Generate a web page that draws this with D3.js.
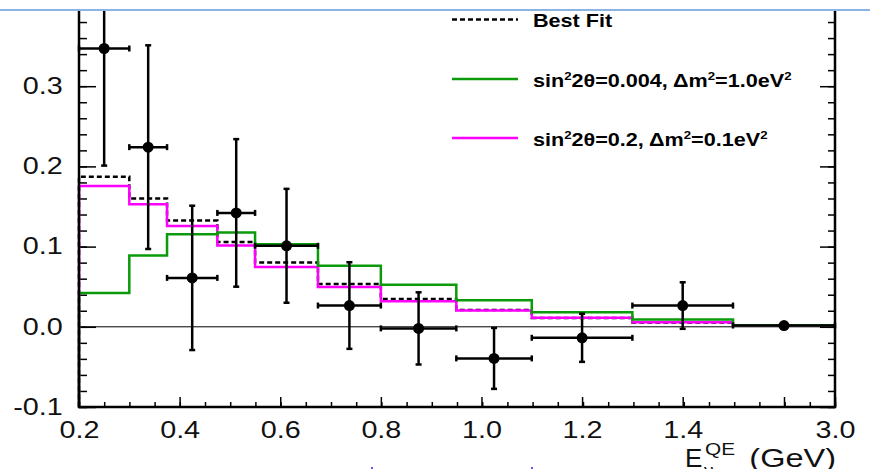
<!DOCTYPE html>
<html>
<head>
<meta charset="utf-8">
<script src="https://cdn.jsdelivr.net/npm/d3@7"></script>
<style>
  body { margin: 0; background: #fff; }
  svg { display: block; font-family: "Liberation Sans", Arial, Helvetica, sans-serif; }
  .tick line { stroke: #000; stroke-width: 1.5; }
  .tick text { fill: #111; font-size: 23px; }
</style>
</head>
<body>
<div id="chart"></div>
<script>
// bin edges in E_QE (GeV); last bin 1.5-3.0 is squeezed on the axis
var binEdges = [0.2, 0.3, 0.375, 0.475, 0.55, 0.675, 0.8, 0.95, 1.1, 1.3, 1.5, 3.0];

// data (excess events) and errors
var dataY   = [0.347, 0.224, 0.061, 0.142, 0.101, 0.0265, -0.002, -0.0394, -0.0137, 0.0265, 0.0016];
var dataErr = [0.146, 0.127, 0.090, 0.092, 0.071, 0.054, 0.045, 0.038, 0.030, 0.029, 0.003];

// predictions
var bestFit  = [0.187, 0.160, 0.1325, 0.1056, 0.0802, 0.0534, 0.0348, 0.021, 0.011, 0.0055, 0.0015];
var oscGreen = [0.042, 0.089, 0.1155, 0.1175, 0.103, 0.076, 0.0525, 0.033, 0.0182, 0.009, 0.002];
var oscPink  = [0.1755, 0.1528, 0.1258, 0.1014, 0.0745, 0.0497, 0.0318, 0.0203, 0.0112, 0.0057, 0.0015];

var xTickValues = [0.2, 0.4, 0.6, 0.8, 1.0, 1.2, 1.4, 2.25, 3.0];
var xTickLabels = ["0.2", "0.4", "0.6", "0.8", "1.0", "1.2", "1.4", "", "3.0"];
var yTickValues = [-0.1, 0.0, 0.1, 0.2, 0.3];
var yTickLabels = ["-0.1", "0.0", "0.1", "0.2", "0.3"];

var W = 870, H = 469;
var mLeft = 79, mRight = 835, mBottom = 407, mTop = 11;

var svg = d3.select("#chart").append("svg")
	.attr("width", W)
	.attr("height", H);

svg.append("rect").attr("width", W).attr("height", H).attr("fill", "#fff");

// piecewise: 0.2-1.5 linear, 1.5-3.0 compressed into the last 0.2 of axis
var x = d3.scaleLinear().domain([0.2, 1.5, 3.0]).range([mLeft, 733, mRight]);
var y = d3.scaleLinear().domain([-0.1, 0.4]).range([mBottom, 6]);

var defs = svg.append("defs");
defs.append("clipPath").attr("id", "plotclip")
	.append("rect").attr("x", 0).attr("y", mTop).attr("width", W).attr("height", H - mTop);
defs.append("clipPath").attr("id", "topclip")
	.append("rect").attr("x", 0).attr("y", 0).attr("width", W).attr("height", 6);

var plot = svg.append("g").attr("clip-path", "url(#plotclip)");

// minor x ticks (every 0.05 on the drawn axis)
var xDisp = d3.scaleLinear().domain([0.2, 1.7]).range([mLeft, mRight]);
plot.append("g")
	.attr("transform", "translate(0," + mBottom + ")")
	.call(d3.axisBottom(xDisp).tickValues(d3.range(0, 31).map(function(i) { return 0.2 + i * 0.05; }))
		.tickSizeInner(-5).tickSizeOuter(0).tickFormat(""))
	.call(function(g) { g.select(".domain").remove(); });

// major x ticks + labels
var xAxis = plot.append("g")
	.attr("transform", "translate(0," + mBottom + ")")
	.call(d3.axisBottom(x).tickValues(xTickValues)
		.tickSizeInner(-10).tickSizeOuter(0).tickPadding(15)
		.tickFormat(function(d, i) { return xTickLabels[i]; }));
xAxis.select(".domain").remove();
xAxis.selectAll("text").attr("transform", "scale(1.25,1)");

// y ticks, left and right
var yMinor = d3.range(0, 26).map(function(i) { return -0.1 + i * 0.02; });
plot.append("g").attr("transform", "translate(" + mLeft + ",0)")
	.call(d3.axisLeft(y).tickValues(yMinor).tickSizeInner(-8).tickSizeOuter(0).tickFormat(""))
	.call(function(g) { g.select(".domain").remove(); });
var yAxis = plot.append("g").attr("transform", "translate(" + mLeft + ",0)")
	.call(d3.axisLeft(y).tickValues(yTickValues.concat([0.4])).tickSizeInner(-17).tickSizeOuter(0).tickPadding(13)
		.tickFormat(function(d, i) { return yTickLabels[i] || ""; }));
yAxis.select(".domain").remove();
yAxis.selectAll("text").attr("transform", "scale(1.25,1)");

plot.append("g").attr("transform", "translate(" + mRight + ",0)")
	.call(d3.axisRight(y).tickValues(yMinor).tickSizeInner(-7).tickSizeOuter(0).tickFormat(""))
	.call(function(g) { g.select(".domain").remove(); });
plot.append("g").attr("transform", "translate(" + mRight + ",0)")
	.call(d3.axisRight(y).tickValues(yTickValues.concat([0.4])).tickSizeInner(-15).tickSizeOuter(0).tickFormat(""))
	.call(function(g) { g.select(".domain").remove(); });

// remnant of the 0.4 label above the header line
svg.append("text")
	.attr("clip-path", "url(#topclip)")
	.attr("text-anchor", "end")
	.attr("transform", "translate(" + (mLeft - 16) + "," + (y(0.4) - 1) + ") scale(1.25,1)")
	.attr("font-size", 23).attr("fill", "#111")
	.text("0.4");

// zero line
plot.append("line")
	.attr("x1", mLeft).attr("x2", mRight)
	.attr("y1", y(0)).attr("y2", y(0))
	.attr("stroke", "#000").attr("stroke-width", 1);

function stepPath(vals) {
	var p = "M" + x(binEdges[0]) + "," + y(-0.1);
	vals.forEach(function(v, i) {
		p += "V" + y(v) + "H" + x(binEdges[i + 1]);
	});
	return p;
}

var hists = [
	{ vals: bestFit, color: "#000", dash: "5,3" },
	{ vals: oscPink, color: "#ff00ff", dash: null },
	{ vals: oscGreen, color: "#0a9a0a", dash: null }
];
plot.selectAll(".hist").data(hists).enter()
	.append("path")
	.attr("class", "hist")
	.attr("d", function(d) { return stepPath(d.vals); })
	.attr("fill", "none")
	.attr("stroke", function(d) { return d.color; })
	.attr("stroke-width", 2.5)
	.attr("stroke-dasharray", function(d) { return d.dash; });

// data points with error bars
var pts = dataY.map(function(v, i) {
	return { lo: binEdges[i], hi: binEdges[i + 1], c: (binEdges[i] + binEdges[i + 1]) / 2, v: v, e: dataErr[i] };
});
var pg = plot.selectAll(".pt").data(pts).enter().append("g").attr("class", "pt")
	.attr("stroke", "#000").attr("stroke-width", 2.5);
pg.append("line")
	.attr("x1", function(d) { return x(d.lo); }).attr("x2", function(d) { return x(d.hi); })
	.attr("y1", function(d) { return y(d.v); }).attr("y2", function(d) { return y(d.v); });
pg.append("line")
	.attr("x1", function(d) { return x(d.c); }).attr("x2", function(d) { return x(d.c); })
	.attr("y1", function(d) { return y(d.v - d.e); }).attr("y2", function(d) { return y(d.v + d.e); });
["lo", "hi"].forEach(function(k) {
	pg.append("line")
		.attr("x1", function(d) { return x(d[k]); }).attr("x2", function(d) { return x(d[k]); })
		.attr("y1", function(d) { return y(d.v) - 3; }).attr("y2", function(d) { return y(d.v) + 3; });
});
[1, -1].forEach(function(s) {
	pg.append("line")
		.attr("x1", function(d) { return x(d.c) - 3; }).attr("x2", function(d) { return x(d.c) + 3; })
		.attr("y1", function(d) { return y(d.v + s * d.e); }).attr("y2", function(d) { return y(d.v + s * d.e); });
});
pg.append("circle")
	.attr("cx", function(d) { return x(d.c); }).attr("cy", function(d) { return y(d.v); })
	.attr("r", 5.5).attr("fill", "#000").attr("stroke", "none");

// frame
svg.append("path")
	.attr("d", "M" + mLeft + "," + mTop + "V" + mBottom + "H" + mRight + "V" + mTop)
	.attr("stroke", "#000").attr("stroke-width", 2.5).attr("fill", "none");

// legend
var legend = svg.append("g").attr("font-weight", "bold").attr("font-size", 18);
var legendRows = [
	{ color: "#000", dash: "5,3", yy: 19.5, parts: [["Best Fit", 0]] },
	{ color: "#0a9a0a", dash: null, yy: 79, parts: [["sin", 0], ["2", 1], ["2θ=0.004, Δm", 0], ["2", 1], ["=1.0eV", 0], ["2", 1]] },
	{ color: "#ff00ff", dash: null, yy: 138, parts: [["sin", 0], ["2", 1], ["2θ=0.2, Δm", 0], ["2", 1], ["=0.1eV", 0], ["2", 1]] }
];
legendRows.forEach(function(r) {
	legend.append("line")
		.attr("x1", 452).attr("x2", 518).attr("y1", r.yy).attr("y2", r.yy)
		.attr("stroke", r.color).attr("stroke-width", 2.5)
		.attr("stroke-dasharray", r.dash);
	var t = legend.append("text")
		.attr("transform", "translate(533," + (r.yy + 7.5) + ") scale(1.2,1)");
	r.parts.forEach(function(p, i) {
		var ts = t.append("tspan").text(p[0]);
		if (p[1]) ts.attr("font-size", 11).attr("dy", -7);
		else if (i > 0) ts.attr("dy", 7);
	});
});

// axis title E_nu^QE (GeV)
var title = svg.append("g").attr("font-size", 26).attr("fill", "#111");
title.append("text").attr("text-anchor", "end")
	.attr("transform", "translate(836,467) scale(1.25,1)").text("(GeV)");
title.append("text").attr("transform", "translate(685,467) scale(1.0,1)").text("E");
title.append("text").attr("transform", "translate(705,455) scale(1.3,1)").attr("font-size", 16).text("QE");
title.append("text").attr("transform", "translate(704,476) scale(1.2,1)").attr("font-size", 16).text("ν");

// slide header line and stray marks
svg.append("line").attr("x1", 0).attr("x2", W).attr("y1", 10).attr("y2", 10)
	.attr("stroke", "#8db3e2").attr("stroke-width", 2);
svg.append("rect").attr("x", 371).attr("y", 467).attr("width", 2).attr("height", 2).attr("fill", "#55f");
svg.append("rect").attr("x", 531).attr("y", 467).attr("width", 2).attr("height", 2).attr("fill", "#55f");
</script>
</body>
</html>
